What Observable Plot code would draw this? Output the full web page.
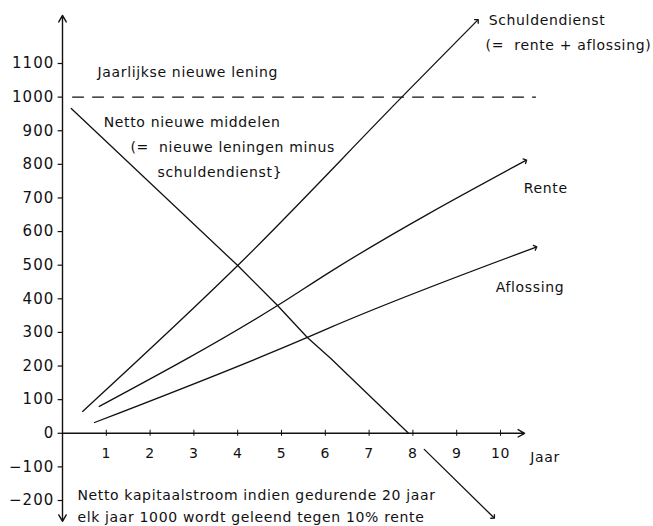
<!DOCTYPE html>
<html>
<head>
<meta charset="utf-8">
<script src="https://cdn.jsdelivr.net/npm/d3@7"></script>
<script src="https://cdn.jsdelivr.net/npm/@observablehq/plot@0.6"></script>
<style>
  html, body { margin: 0; padding: 0; background: #fff; }
  #chart svg { display: block; }
  #chart svg text { letter-spacing: 0.65px; }
  #chart svg g.ytl text { letter-spacing: 1.1px; }
</style>
</head>
<body>
<div id="chart"></div>
<script>
// ---- data ----
const schuldYear  = [0.46, 4.0, 7.83, 9.47];
const schuldValue = [65, 499, 1011, 1228];

const renteYear  = [0.84, 4.91, 6.12, 10.57];
const renteValue = [80, 380, 481, 811];

const aflosYear  = [0.73, 5.59, 6.12, 10.8];
const aflosValue = [32, 285, 315, 553];

const nettoYear  = [0.2, 4.0, 4.91, 5.59, 6.12, 7.9];
const nettoValue = [966, 499, 380, 285, 223, 0];

const nettoNegYear  = [8.26, 9.84];
const nettoNegValue = [-48, -250];

const leningYear  = [0.23, 10.8];
const leningValue = [1000, 1000];

const xTicks = [1, 2, 3, 4, 5, 6, 7, 8, 9, 10];
const yTicks = [-200, -100, 0, 100, 200, 300, 400, 500, 600, 700, 800, 900, 1000, 1100];

const annoText = [
  "Jaarlijkse nieuwe lening",
  "Netto nieuwe middelen",
  "(=  nieuwe leningen minus",
  "schuldendienst}",
  "Schuldendienst",
  "(=  rente + aflossing)",
  "Rente",
  "Aflossing",
  "Jaar",
  "Netto kapitaalstroom indien gedurende 20 jaar",
  "elk jaar 1000 wordt geleend tegen 10% rente"
];
const annoX = [0.8, 0.94, 1.55, 2.17, 9.73, 9.66, 10.53, 9.89, 10.68, 0.34, 0.34];
const annoY = [1073, 924, 850, 776, 1228, 1153, 728, 434, -72, -185, -250];

// ---- build tables ----
const zip = (xs, ys) => xs.map((x, i) => ({x, y: ys[i]}));
const schuld = zip(schuldYear, schuldValue);
const rente = zip(renteYear, renteValue);
const aflos = zip(aflosYear, aflosValue);
const netto = zip(nettoYear, nettoValue);
const nettoNeg = zip(nettoNegYear, nettoNegValue);
const lening = zip(leningYear, leningValue);
const anno = annoText.map((t, i) => ({t, x: annoX[i], y: annoY[i]}));

const FONT = "DejaVu Sans";
const fmt = d => d < 0 ? "\u2212" + Math.abs(d) : String(d);

const chart = Plot.plot({
  width: 653,
  height: 526,
  marginLeft: 62,
  marginRight: 153,
  marginTop: 63,
  marginBottom: 26,
  style: {fontFamily: FONT, fontSize: "14px", background: "#fff", color: "#111"},
  x: {domain: [0, 10], axis: null},
  y: {domain: [-200, 1100], axis: null},
  marks: [
    // y axis with arrows both ends
    Plot.arrow([{a: 0, b: 1243}], {x1: () => 0, x2: () => 0, y1: "a", y2: "b", stroke: "#111", strokeWidth: 1.4, headLength: 8}),
    Plot.arrow([{a: 0, b: -262}], {x1: () => 0, x2: () => 0, y1: "a", y2: "b", stroke: "#111", strokeWidth: 1.4, headLength: 8}),
    // x axis with arrow
    Plot.arrow([{a: 0, b: 10.55}], {x1: "a", x2: "b", y1: () => 0, y2: () => 0, stroke: "#111", strokeWidth: 1.4, headLength: 8}),
    // y ticks + labels
    Plot.ruleY(yTicks, {y: d => d, x1: -0.1, x2: 0, stroke: "#111", strokeWidth: 1.2}),
    Plot.text(yTicks, {y: d => d, x: () => 0, dx: -8, text: fmt, textAnchor: "end", fontSize: 15, fill: "#111", className: "ytl"}),
    // x ticks + labels
    Plot.ruleX(xTicks, {x: d => d, y1: -9, y2: 9, stroke: "#111", strokeWidth: 1}),
    Plot.text(xTicks, {x: d => d, y: () => 0, dy: 20, text: d => String(d), fontSize: 14, fill: "#111"}),
    // dashed constant new loan
    Plot.line(lening, {x: "x", y: "y", stroke: "#111", strokeWidth: 1.2, strokeDasharray: "11,9"}),
    // series
    Plot.line(schuld, {x: "x", y: "y", stroke: "#111", strokeWidth: 1.3, markerEnd: "arrow", curve: "monotone-x"}),
    Plot.line(rente, {x: "x", y: "y", stroke: "#111", strokeWidth: 1.3, markerEnd: "arrow", curve: "monotone-x"}),
    Plot.line(aflos, {x: "x", y: "y", stroke: "#111", strokeWidth: 1.3, markerEnd: "arrow", curve: "monotone-x"}),
    Plot.line(netto, {x: "x", y: "y", stroke: "#111", strokeWidth: 1.3}),
    Plot.line(nettoNeg, {x: "x", y: "y", stroke: "#111", strokeWidth: 1.3, markerEnd: "arrow"}),
    // annotations
    Plot.text(anno, {x: "x", y: "y", text: "t", textAnchor: "start", fontSize: 14, fill: "#111"})
  ]
});
document.getElementById("chart").appendChild(chart);
</script>
</body>
</html>
